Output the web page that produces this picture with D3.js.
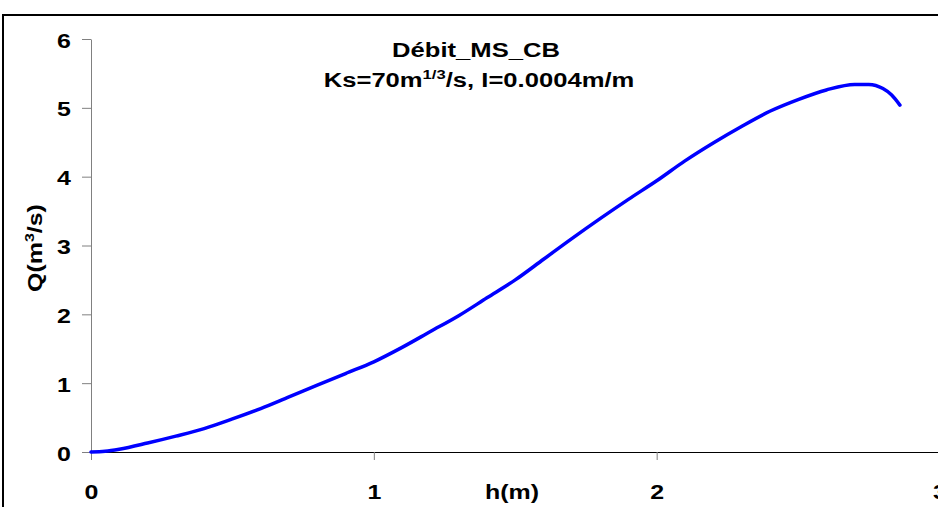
<!DOCTYPE html>
<html>
<head>
<meta charset="utf-8">
<script src="https://cdn.jsdelivr.net/npm/d3@7"></script>
<style>
  body { margin: 0; background: #fff; }
  svg { display: block; overflow: hidden; }
  text { font-family: "Liberation Sans", Arial, sans-serif; font-weight: bold; fill: #000; }
</style>
</head>
<body>
<div id="chart"></div>
<script>
// data
var hValues = [0, 0.05, 0.1, 0.2, 0.3, 0.4, 0.5, 0.6, 0.7, 0.8, 0.9, 1.0, 1.1, 1.2, 1.3, 1.4, 1.5,
               1.6, 1.7, 1.8, 1.9, 2.0, 2.1, 2.2, 2.3, 2.4, 2.5, 2.6, 2.7, 2.75, 2.8, 2.83, 2.86];
var qValues = [0, 0.01, 0.04, 0.13, 0.23, 0.34, 0.48, 0.63, 0.80, 0.97, 1.14, 1.31, 1.52, 1.75, 1.98, 2.24, 2.50,
               2.80, 3.10, 3.39, 3.67, 3.94, 4.23, 4.49, 4.73, 4.95, 5.12, 5.26, 5.34, 5.34, 5.28, 5.19, 5.04];
var xTicks = [0, 1, 2, 3];
var yTicks = [0, 1, 2, 3, 4, 5, 6];

var width = 938, height = 507;
var stretch = 1.28; // the original text is drawn wider than normal

var svg = d3.select("#chart")
  .append("svg")
    .attr("width", width)
    .attr("height", height);

// outer frame
svg.append("rect")
  .attr("x", 3).attr("y", 15)
  .attr("width", width + 20).attr("height", height + 20)
  .attr("fill", "none")
  .attr("stroke", "#000")
  .attr("stroke-width", 2);

var x = d3.scaleLinear().domain([0, 3]).range([91, 939.5]);
var y = d3.scaleLinear().domain([0, 6]).range([452, 39]);

// Y axis
var yAxis = svg.append("g")
  .attr("transform", "translate(" + x(0) + ",0)")
  .call(d3.axisLeft(y).tickValues(yTicks).tickFormat(d3.format("d")).tickSize(9).tickSizeOuter(0));
yAxis.select(".domain").attr("stroke", "#808080");
yAxis.selectAll(".tick line").attr("stroke", "#808080");
yAxis.selectAll(".tick text")
  .attr("x", null).attr("dy", "0.36em")
  .attr("transform", "translate(-20,1) scale(" + stretch + ",1)")
  .style("font-size", "19.5px");

// X axis
var xAxis = svg.append("g")
  .attr("transform", "translate(0," + y(0) + ")")
  .call(d3.axisBottom(x).tickValues(xTicks).tickFormat(d3.format("d")).tickSize(8).tickSizeOuter(0));
xAxis.select(".domain").attr("stroke", "#000");
xAxis.selectAll(".tick line").attr("stroke", "#808080");
xAxis.selectAll(".tick text")
  .attr("y", null).attr("dy", null)
  .attr("transform", "translate(0,47) scale(" + stretch + ",1)")
  .style("font-size", "19.5px");

// axis titles
svg.append("text")
  .attr("transform", "translate(512,499) scale(" + stretch + ",1)")
  .style("text-anchor", "middle")
  .style("font-size", "19.5px")
  .text("h(m)");

var yLabel = svg.append("text")
  .attr("transform", "translate(42,248) rotate(-90) scale(" + stretch + ",1)")
  .style("text-anchor", "middle")
  .style("font-size", "19.5px");
yLabel.append("tspan").text("Q(m");
yLabel.append("tspan").attr("dy", -8).style("font-size", "12.5px").text("3");
yLabel.append("tspan").attr("dy", 8).text("/s)");

// chart title
svg.append("text")
  .attr("transform", "translate(476,57) scale(" + stretch + ",1)")
  .style("text-anchor", "middle")
  .style("font-size", "20px")
  .text("Débit_MS_CB");

var t2 = svg.append("text")
  .attr("transform", "translate(479,87) scale(" + stretch + ",1)")
  .style("text-anchor", "middle")
  .style("font-size", "20px");
t2.append("tspan").text("Ks=70m");
t2.append("tspan").attr("dy", -8).style("font-size", "13px").text("1/3");
t2.append("tspan").attr("dy", 8).text("/s, I=0.0004m/m");

// the curve
var line = d3.line()
  .x(function(d, i) { return x(hValues[i]); })
  .y(function(d, i) { return y(qValues[i]); })
  .curve(d3.curveMonotoneX);

svg.append("path")
  .datum(hValues)
  .attr("d", line)
  .attr("fill", "none")
  .attr("stroke", "#0000FF")
  .attr("stroke-width", 3.5)
  .attr("stroke-linecap", "round")
  .attr("stroke-linejoin", "round");
</script>
</body>
</html>
